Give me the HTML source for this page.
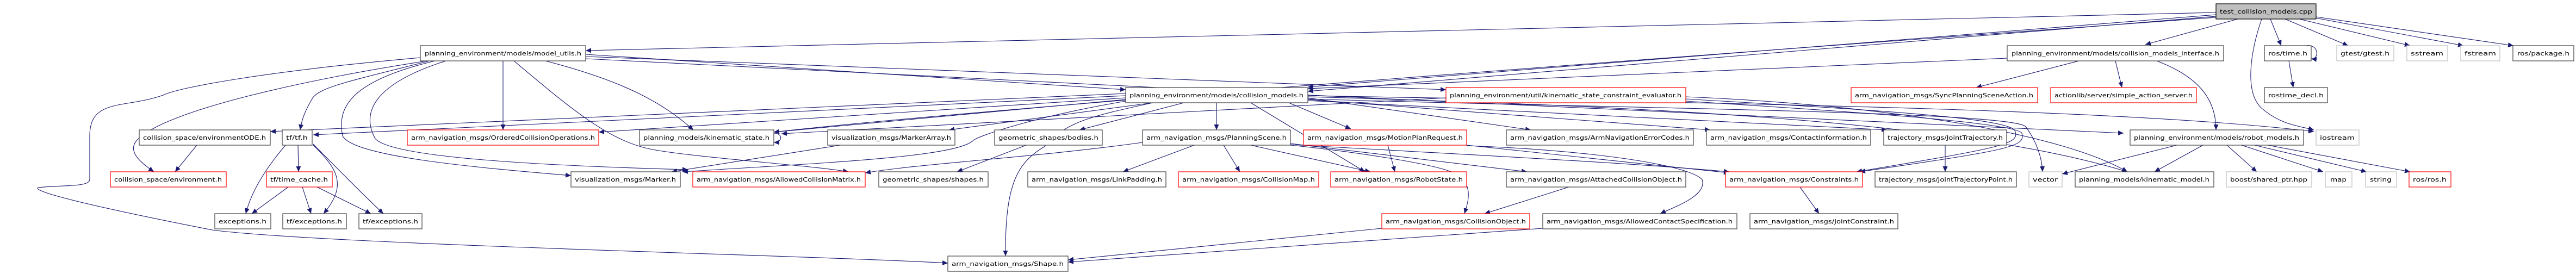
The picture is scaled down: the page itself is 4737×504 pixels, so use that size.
<!DOCTYPE html>
<html><head><meta charset="utf-8"><style>
html,body{margin:0;padding:0;background:#fff;}
svg{display:block;}
text{font-family:"DejaVu Sans","Liberation Sans",sans-serif;font-size:11px;fill:#000;}
.k{fill:#fff;stroke:#404040;stroke-width:1.2}
.r{fill:#fff;stroke:#ff0000;stroke-width:1.2}
.g{fill:#fff;stroke:#bfbfbf;stroke-width:1.2}
.e{fill:none;stroke:#191970;stroke-width:1.1}
</style></head><body>
<svg width="4737" height="504" viewBox="0 0 4737 504" xmlns="http://www.w3.org/2000/svg">
<defs><marker id="a" markerUnits="userSpaceOnUse" markerWidth="11" markerHeight="9" refX="10" refY="4.5" orient="auto"><path d="M0,0 L10,4.5 L0,9 z" fill="#191970"/></marker></defs>
<g marker-end="url(#a)" class="e">
<!-- test -->
<path class="e" d="M4075,23 L1077,93"/>
<path class="e" d="M4075,27 L2405,160"/>
<path class="e" d="M4075,30 L2405,168"/>
<path class="e" d="M4075,32 C3000,110 1800,200 1423,243"/>
<path class="e" d="M4115,35 L3945,82"/>
<path class="e" d="M4175,35 L4195,84"/>
<path class="e" d="M4202,35 L4318,84"/>
<path class="e" d="M4228,35 L4432,84"/>
<path class="e" d="M4258,33 L4530,84"/>
<path class="e" d="M4259,31 L4622,84"/>
<path class="e" d="M4159,35 C4140,90 4125,170 4160,200 S4230,232 4255,239"/>
<!-- collision_models_interface -->
<path class="e" d="M3691,107 L2405,163"/>
<path class="e" d="M3823,112 L3634,161"/>
<path class="e" d="M3890,112 L3902,161"/>
<path class="e" d="M3966,112 C4040,140 4075,180 4075,239"/>
<!-- ros/time -->
<path class="e" d="M4209,112 L4217,161"/>
<path class="e" d="M4240,84 C4265,80 4265,110 4250,108"/>
<!-- model_utils -->
<path class="e" d="M785,112 C600,140 300,200 250,260 C235,280 260,300 283,316"/>
<path class="e" d="M773,106 C500,130 330,160 300,175 C230,200 165,180 165,250 L165,330 C165,345 110,340 70,345 C60,350 120,370 390,423 C600,450 1500,470 1743,484"/>
<path class="e" d="M790,112 C640,150 590,160 575,180 C560,205 555,220 552,239"/>
<path class="e" d="M925,112 L925,239"/>
<path class="e" d="M1003,112 C1150,150 1220,190 1275,239"/>
<path class="e" d="M945,112 C1050,200 1120,260 1200,275 S1500,305 1560,316"/>
<path class="e" d="M1077,100 L2070,165"/>
<path class="e" d="M1077,104 L2659,165"/>
<path class="e" d="M1077,108 C2000,160 3000,200 3905,245"/>
<path class="e" d="M800,112 C640,150 620,200 630,250 C650,290 900,310 1050,323"/>
<path class="e" d="M820,112 C700,150 660,200 690,255 C720,290 1000,305 1265,312"/>
<!-- collision_models -->
<path class="e" d="M2237,189 L2237,239"/>
<path class="e" d="M2177,189 L1985,239"/>
<path class="e" d="M2120,189 L1745,239"/>
<path class="e" d="M2070,183 L1423,243"/>
<path class="e" d="M2070,180 L1101,243"/>
<path class="e" d="M2070,176 L576,248"/>
<path class="e" d="M2070,172 L497,242"/>
<path class="e" d="M2070,186 C1900,215 1800,250 1790,258 C1760,290 1500,300 1255,316"/>
<path class="e" d="M2120,189 C2000,215 1960,225 1920,270 C1870,300 1848,340 1849,471"/>
<path class="e" d="M2370,189 L2484,237"/>
<path class="e" d="M2405,180 L2815,239"/>
<path class="e" d="M2405,183 L3145,239"/>
<path class="e" d="M2405,185 L3470,239"/>
<path class="e" d="M2405,178 C3000,195 3600,220 3912,316"/>
<path class="e" d="M2405,182 C3000,200 3700,205 3725,233 C3745,260 3755,290 3756,316"/>
<path class="e" d="M2405,176 C3200,190 3900,200 4255,242"/>
<path class="e" d="M2300,189 L2510,316"/>
<!-- PlanningScene -->
<path class="e" d="M2196,267 L2065,316"/>
<path class="e" d="M2250,267 L2280,316"/>
<path class="e" d="M2300,267 L2520,316"/>
<path class="e" d="M2101,262 C1900,290 1700,300 1591,318"/>
<path class="e" d="M2373,264 L2808,316"/>
<path class="e" d="M2373,267 C2500,280 2620,300 2660,313 C2715,330 2700,370 2693,393"/>
<path class="e" d="M2373,266 C2800,290 3000,300 3180,316"/>
<!-- MotionPlanRequest -->
<path class="e" d="M2552,267 L2565,316"/>
<path class="e" d="M2697,267 L3180,318"/>
<path class="e" d="M2697,268 C2900,275 3100,300 3130,330 C3140,360 3080,380 3053,393"/>
<!-- others -->
<path class="e" d="M2885,344 L2730,393"/>
<path class="e" d="M2541,420 L1964,478"/>
<path class="e" d="M2837,420 L1964,482"/>
<path class="e" d="M3310,344 L3345,393"/>
<path class="e" d="M3577,267 L3577,316"/>
<path class="e" d="M3100,182 C3400,200 3690,215 3705,240 C3715,265 3690,270 3414,316"/>
<path class="e" d="M3100,186 C3400,205 3705,225 3718,245 C3725,270 3700,275 3420,316"/>
<path class="e" d="M3100,178 C3500,195 3800,250 3912,316"/>
<path class="e" d="M2659,180 L1437,246"/>
<path class="e" d="M4003,267 L3792,320"/>
<path class="e" d="M4051,267 L3962,316"/>
<path class="e" d="M4095,267 L4150,316"/>
<path class="e" d="M4122,267 L4272,316"/>
<path class="e" d="M4146,267 L4352,316"/>
<path class="e" d="M4170,267 L4432,316"/>
<path class="e" d="M1545,267 L1235,316"/>
<path class="e" d="M1887,267 L1760,316"/>
<path class="e" d="M362,267 L322,316"/>
<path class="e" d="M548,267 L549,316"/>
<path class="e" d="M525,267 C480,320 460,360 452,393"/>
<path class="e" d="M576,267 C620,310 640,340 595,393"/>
<path class="e" d="M576,265 C630,320 680,370 705,393"/>
<path class="e" d="M530,344 L463,393"/>
<path class="e" d="M556,344 L572,393"/>
<path class="e" d="M583,344 L682,393"/>
<path class="e" d="M1423,245 C1440,245 1440,262 1423,262"/>
</g>
<g>
<!-- R1 -->
<rect x="4075" y="7" width="184" height="28" fill="#bfbfbf" stroke="#000" stroke-width="1.2"/><text x="4167" y="25" text-anchor="middle" textLength="170" lengthAdjust="spacingAndGlyphs">test_collision_models.cpp</text>
<!-- R2 -->
<rect class="k" x="773" y="84" width="304" height="28"/><text x="925" y="102" text-anchor="middle" textLength="288" lengthAdjust="spacingAndGlyphs">planning_environment/models/model_utils.h</text>
<rect class="k" x="3691" y="84" width="398" height="28"/><text x="3890" y="102" text-anchor="middle" textLength="382" lengthAdjust="spacingAndGlyphs">planning_environment/models/collision_models_interface.h</text>
<rect class="k" x="4164" y="84" width="86" height="28"/><text x="4207" y="102" text-anchor="middle" textLength="72" lengthAdjust="spacingAndGlyphs">ros/time.h</text>
<rect class="g" x="4297" y="84" width="105" height="28"/><text x="4349" y="102" text-anchor="middle" textLength="90" lengthAdjust="spacingAndGlyphs">gtest/gtest.h</text>
<rect class="g" x="4426" y="84" width="75" height="28"/><text x="4463" y="102" text-anchor="middle" textLength="60" lengthAdjust="spacingAndGlyphs">sstream</text>
<rect class="g" x="4525" y="84" width="72" height="28"/><text x="4561" y="102" text-anchor="middle" textLength="58" lengthAdjust="spacingAndGlyphs">fstream</text>
<rect class="k" x="4621" y="84" width="112" height="28"/><text x="4677" y="102" text-anchor="middle" textLength="96" lengthAdjust="spacingAndGlyphs">ros/package.h</text>
<!-- R3 -->
<rect class="k" x="2070" y="161" width="335" height="28"/><text x="2237" y="179" text-anchor="middle" textLength="320" lengthAdjust="spacingAndGlyphs">planning_environment/models/collision_models.h</text>
<rect class="r" x="2659" y="161" width="441" height="28"/><text x="2879" y="179" text-anchor="middle" textLength="426" lengthAdjust="spacingAndGlyphs">planning_environment/util/kinematic_state_constraint_evaluator.h</text>
<rect class="r" x="3404" y="161" width="343" height="28"/><text x="3575" y="179" text-anchor="middle" textLength="328" lengthAdjust="spacingAndGlyphs">arm_navigation_msgs/SyncPlanningSceneAction.h</text>
<rect class="r" x="3771" y="161" width="268" height="28"/><text x="3905" y="179" text-anchor="middle" textLength="254" lengthAdjust="spacingAndGlyphs">actionlib/server/simple_action_server.h</text>
<rect class="k" x="4164" y="161" width="116" height="28"/><text x="4222" y="179" text-anchor="middle" textLength="102" lengthAdjust="spacingAndGlyphs">rostime_decl.h</text>
<!-- R4 -->
<rect class="k" x="256" y="239" width="241" height="28"/><text x="376" y="257" text-anchor="middle" textLength="226" lengthAdjust="spacingAndGlyphs">collision_space/environmentODE.h</text>
<rect class="k" x="519" y="239" width="55" height="28"/><text x="546" y="257" text-anchor="middle" textLength="40" lengthAdjust="spacingAndGlyphs">tf/tf.h</text>
<rect class="r" x="749" y="239" width="352" height="28"/><text x="925" y="257" text-anchor="middle" textLength="338" lengthAdjust="spacingAndGlyphs">arm_navigation_msgs/OrderedCollisionOperations.h</text>
<rect class="k" x="1176" y="239" width="247" height="28"/><text x="1299" y="257" text-anchor="middle" textLength="232" lengthAdjust="spacingAndGlyphs">planning_models/kinematic_state.h</text>
<rect class="k" x="1522" y="239" width="234" height="28"/><text x="1639" y="257" text-anchor="middle" textLength="220" lengthAdjust="spacingAndGlyphs">visualization_msgs/MarkerArray.h</text>
<rect class="k" x="1829" y="239" width="198" height="28"/><text x="1928" y="257" text-anchor="middle" textLength="184" lengthAdjust="spacingAndGlyphs">geometric_shapes/bodies.h</text>
<rect class="k" x="2101" y="239" width="272" height="28"/><text x="2237" y="257" text-anchor="middle" textLength="258" lengthAdjust="spacingAndGlyphs">arm_navigation_msgs/PlanningScene.h</text>
<rect class="r" x="2397" y="239" width="300" height="28"/><text x="2547" y="257" text-anchor="middle" textLength="286" lengthAdjust="spacingAndGlyphs">arm_navigation_msgs/MotionPlanRequest.h</text>
<rect class="k" x="2770" y="239" width="344" height="28"/><text x="2942" y="257" text-anchor="middle" textLength="330" lengthAdjust="spacingAndGlyphs">arm_navigation_msgs/ArmNavigationErrorCodes.h</text>
<rect class="k" x="3138" y="239" width="302" height="28"/><text x="3289" y="257" text-anchor="middle" textLength="288" lengthAdjust="spacingAndGlyphs">arm_navigation_msgs/ContactInformation.h</text>
<rect class="k" x="3464" y="239" width="226" height="28"/><text x="3577" y="257" text-anchor="middle" textLength="212" lengthAdjust="spacingAndGlyphs">trajectory_msgs/JointTrajectory.h</text>
<rect class="k" x="3917" y="239" width="319" height="28"/><text x="4076" y="257" text-anchor="middle" textLength="304" lengthAdjust="spacingAndGlyphs">planning_environment/models/robot_models.h</text>
<rect class="g" x="4259" y="239" width="79" height="28"/><text x="4298" y="257" text-anchor="middle" textLength="64" lengthAdjust="spacingAndGlyphs">iostream</text>
<!-- R5 -->
<rect class="r" x="203" y="316" width="213" height="28"/><text x="309" y="334" text-anchor="middle" textLength="198" lengthAdjust="spacingAndGlyphs">collision_space/environment.h</text>
<rect class="r" x="490" y="316" width="121" height="28"/><text x="550" y="334" text-anchor="middle" textLength="106" lengthAdjust="spacingAndGlyphs">tf/time_cache.h</text>
<rect class="k" x="1050" y="316" width="201" height="28"/><text x="1150" y="334" text-anchor="middle" textLength="186" lengthAdjust="spacingAndGlyphs">visualization_msgs/Marker.h</text>
<rect class="r" x="1274" y="316" width="317" height="28"/><text x="1432" y="334" text-anchor="middle" textLength="302" lengthAdjust="spacingAndGlyphs">arm_navigation_msgs/AllowedCollisionMatrix.h</text>
<rect class="k" x="1616" y="316" width="201" height="28"/><text x="1716" y="334" text-anchor="middle" textLength="186" lengthAdjust="spacingAndGlyphs">geometric_shapes/shapes.h</text>
<rect class="k" x="1890" y="316" width="254" height="28"/><text x="2017" y="334" text-anchor="middle" textLength="240" lengthAdjust="spacingAndGlyphs">arm_navigation_msgs/LinkPadding.h</text>
<rect class="r" x="2167" y="316" width="258" height="28"/><text x="2296" y="334" text-anchor="middle" textLength="244" lengthAdjust="spacingAndGlyphs">arm_navigation_msgs/CollisionMap.h</text>
<rect class="r" x="2447" y="316" width="250" height="28"/><text x="2572" y="334" text-anchor="middle" textLength="236" lengthAdjust="spacingAndGlyphs">arm_navigation_msgs/RobotState.h</text>
<rect class="k" x="2770" y="316" width="330" height="28"/><text x="2935" y="334" text-anchor="middle" textLength="316" lengthAdjust="spacingAndGlyphs">arm_navigation_msgs/AttachedCollisionObject.h</text>
<rect class="r" x="3173" y="316" width="252" height="28"/><text x="3299" y="334" text-anchor="middle" textLength="238" lengthAdjust="spacingAndGlyphs">arm_navigation_msgs/Constraints.h</text>
<rect class="k" x="3448" y="316" width="260" height="28"/><text x="3578" y="334" text-anchor="middle" textLength="246" lengthAdjust="spacingAndGlyphs">trajectory_msgs/JointTrajectoryPoint.h</text>
<rect class="g" x="3731" y="316" width="61" height="28"/><text x="3761" y="334" text-anchor="middle" textLength="46" lengthAdjust="spacingAndGlyphs">vector</text>
<rect class="k" x="3816" y="316" width="255" height="28"/><text x="3943" y="334" text-anchor="middle" textLength="240" lengthAdjust="spacingAndGlyphs">planning_models/kinematic_model.h</text>
<rect class="g" x="4094" y="316" width="157" height="28"/><text x="4172" y="334" text-anchor="middle" textLength="142" lengthAdjust="spacingAndGlyphs">boost/shared_ptr.hpp</text>
<rect class="g" x="4276" y="316" width="49" height="28"/><text x="4300" y="334" text-anchor="middle" textLength="30" lengthAdjust="spacingAndGlyphs">map</text>
<rect class="g" x="4350" y="316" width="57" height="28"/><text x="4378" y="334" text-anchor="middle" textLength="40" lengthAdjust="spacingAndGlyphs">string</text>
<rect class="r" x="4430" y="316" width="77" height="28"/><text x="4468" y="334" text-anchor="middle" textLength="62" lengthAdjust="spacingAndGlyphs">ros/ros.h</text>
<!-- R6 -->
<rect class="k" x="395" y="393" width="103" height="28"/><text x="446" y="411" text-anchor="middle" textLength="88" lengthAdjust="spacingAndGlyphs">exceptions.h</text>
<rect class="k" x="520" y="393" width="117" height="28"/><text x="578" y="411" text-anchor="middle" textLength="102" lengthAdjust="spacingAndGlyphs">tf/exceptions.h</text>
<rect class="k" x="660" y="393" width="116" height="28"/><text x="718" y="411" text-anchor="middle" textLength="102" lengthAdjust="spacingAndGlyphs">tf/exceptions.h</text>
<rect class="r" x="2541" y="393" width="272" height="28"/><text x="2677" y="411" text-anchor="middle" textLength="258" lengthAdjust="spacingAndGlyphs">arm_navigation_msgs/CollisionObject.h</text>
<rect class="k" x="2837" y="393" width="357" height="28"/><text x="3015" y="411" text-anchor="middle" textLength="342" lengthAdjust="spacingAndGlyphs">arm_navigation_msgs/AllowedContactSpecification.h</text>
<rect class="k" x="3218" y="393" width="272" height="28"/><text x="3354" y="411" text-anchor="middle" textLength="258" lengthAdjust="spacingAndGlyphs">arm_navigation_msgs/JointConstraint.h</text>
<!-- R7 -->
<rect class="k" x="1743" y="471" width="221" height="28"/><text x="1853" y="489" text-anchor="middle" textLength="206" lengthAdjust="spacingAndGlyphs">arm_navigation_msgs/Shape.h</text>
</g>
</svg>
</body></html>
